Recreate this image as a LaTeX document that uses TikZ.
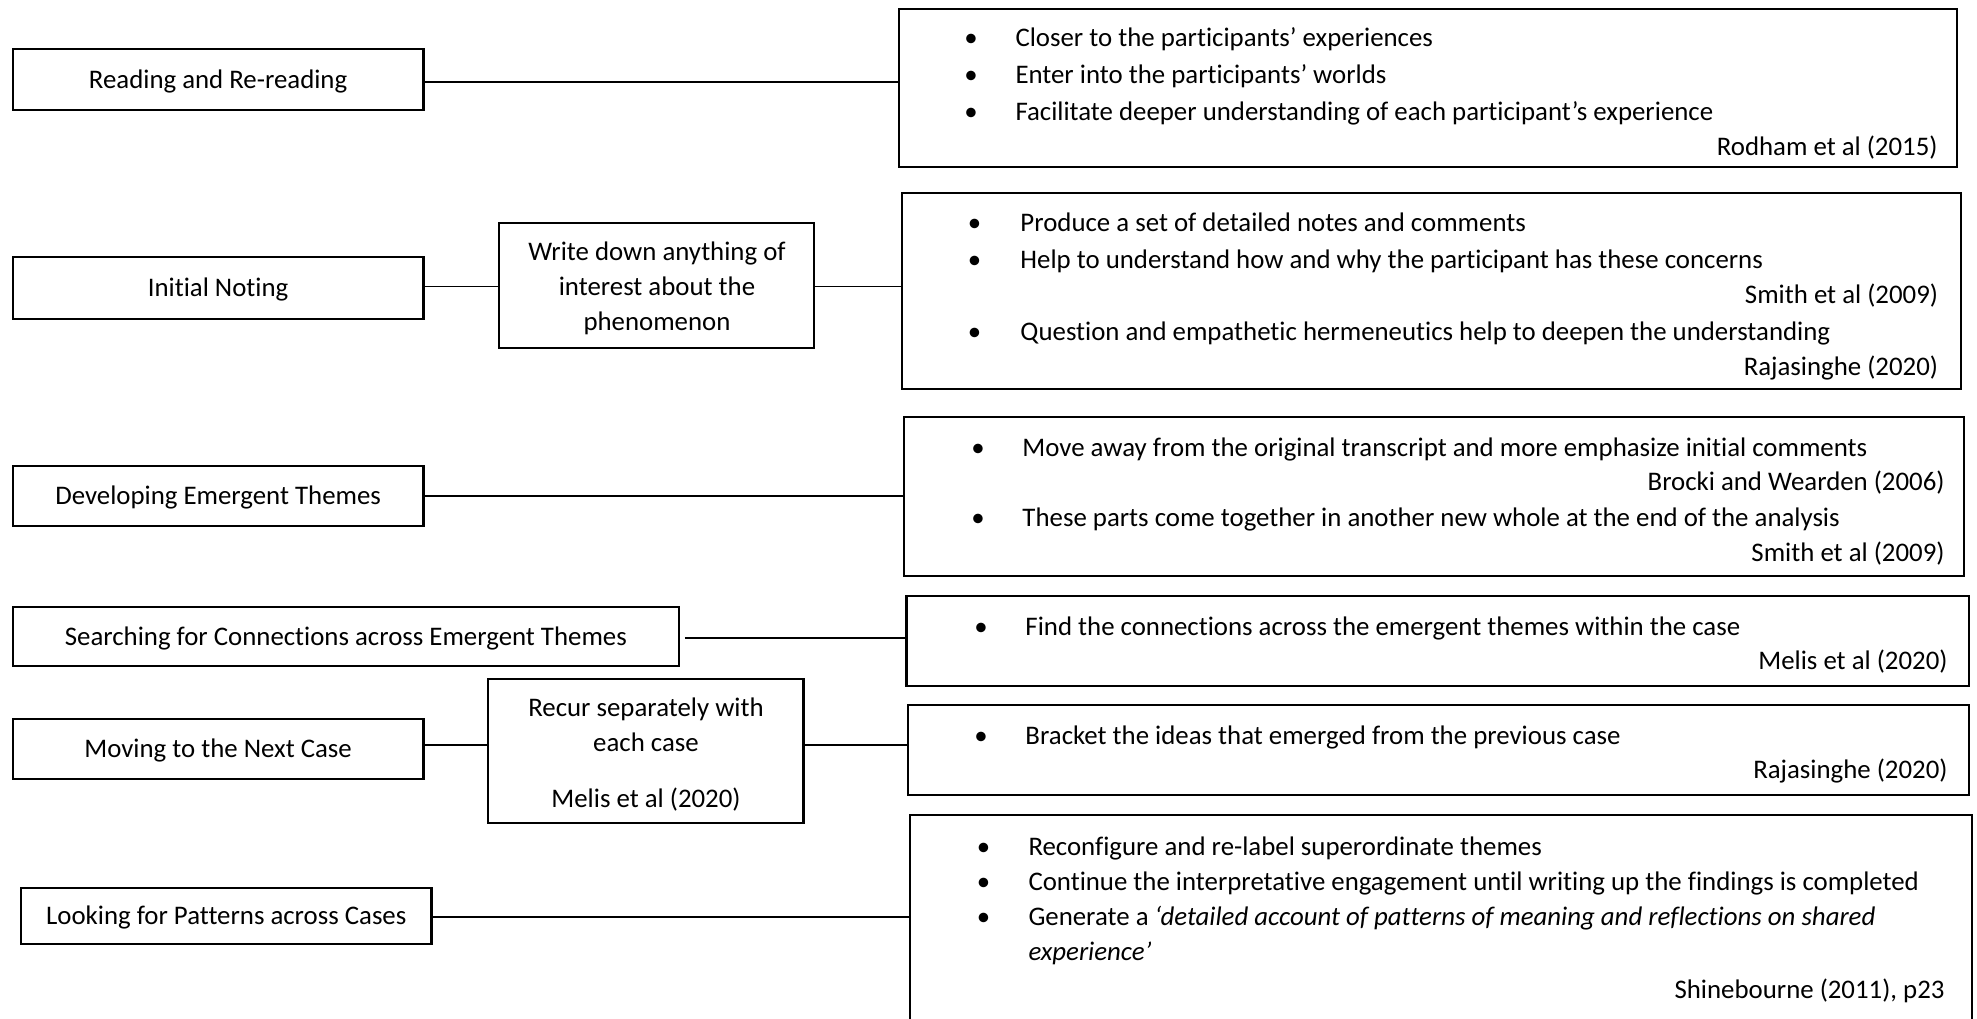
\documentclass[tikz,border=0pt]{standalone}
\usepackage{fontspec}
\setmainfont{Carlito}[Ligatures=NoCommon]
\usetikzlibrary{fit}
\begin{document}
\begin{tikzpicture}[x=0.41pt,y=-0.41pt,
  box/.style={draw, line width=0.9pt, inner sep=0pt, rectangle, font=\fontsize{11}{13}\selectfont},
  con/.style={line width=0.6pt},
  txt/.style={inner sep=0pt, anchor=west, text height=9.5pt, text depth=2.2pt, font=\fontsize{11}{13}\selectfont},
  cit/.style={txt, anchor=east},
  ctr/.style={txt, anchor=center},
  bul/.style={txt, anchor=center}]
\useasboundingbox (0,0) rectangle (1977,1019);
\fill[white] (0,0) rectangle (1977,1019);

% left boxes
\node[box, fit={(12.7,49) (423.5,110)}] (L1) {};
\node[ctr] (t1) at (L1.center) {Reading and Re-reading};
\node[box, fit={(12.7,257) (423.5,319)}] (L2) {};
\node[ctr] (t2) at (L2.center) {Initial Noting};
\node[box, fit={(12.7,466) (423.5,526)}] (L3) {};
\node[ctr] (t3) at (L3.center) {Developing Emergent Themes};
\node[box, fit={(12.7,607) (679,666)}] (L4) {};
\node[ctr] (t4) at (L4.center) {Searching for Connections across Emergent Themes};
\node[box, fit={(12.7,719) (423.5,779)}] (L5) {};
\node[ctr] (t5) at (L5.center) {Moving to the Next Case};
\node[box, fit={(21,888) (431.5,944)}] (L6) {};
\node[ctr] (t6) at (L6.center) {Looking for Patterns across Cases};

% middle boxes
\node[box, fit={(499,223) (814,348)}] (W) {};
\node[ctr] (w1) at (657,252) {Write down anything of};
\node[ctr] (w2) at (657,287) {interest about the};
\node[ctr] (w3) at (657,322) {phenomenon};
\node[box, fit={(488,679) (803.5,822.7)}] (Rc) {};
\node[ctr] (c1) at (646,708) {Recur separately with};
\node[ctr] (c2) at (646,743) {each case};
\node[ctr] (c3) at (646,799) {Melis et al (2020)};

% right boxes
\node[box, fit={(899,9) (1957,167)}] (R1) {};
\node[bul] (b11) at (971,38) {•};
\node[txt] (a11) at (1015,38) {Closer to the participants’ experiences};
\node[bul] (b12) at (971,75) {•};
\node[txt] (a12) at (1015,75) {Enter into the participants’ worlds};
\node[bul] (b13) at (971,112) {•};
\node[txt] (a13) at (1015,112) {Facilitate deeper understanding of each participant’s experience};
\node[cit] (r1) at (1938,147) {Rodham et al (2015)};

\node[box, fit={(902,193) (1961,389)}] (R2) {};
\node[bul] (b21) at (974.5,223) {•};
\node[txt] (a21) at (1020,223) {Produce a set of detailed notes and comments};
\node[bul] (b22) at (974.5,260) {•};
\node[txt] (a22) at (1020,260) {Help to understand how and why the participant has these concerns};
\node[cit] (r21) at (1938.5,295) {Smith et al (2009)};
\node[bul] (b23) at (974.5,332) {•};
\node[txt] (a23) at (1020,332) {Question and empathetic hermeneutics help to deepen the understanding};
\node[cit] (r22) at (1938.5,367) {Rajasinghe (2020)};

\node[box, fit={(904,417) (1964,576)}] (R3) {};
\node[bul] (b31) at (978,448) {•};
\node[txt] (a31) at (1022,448) {Move away from the original transcript and more emphasize initial comments};
\node[cit] (r31) at (1945,482) {Brocki and Wearden (2006)};
\node[bul] (b32) at (978,518) {•};
\node[txt] (a32) at (1022,518) {These parts come together in another new whole at the end of the analysis};
\node[cit] (r32) at (1945,553) {Smith et al (2009)};

\node[box, fit={(906.5,596) (1969,686)}] (R4) {};
\node[bul] (b41) at (981,627) {•};
\node[txt] (a41) at (1025,627) {Find the connections across the emergent themes within the case};
\node[cit] (r4) at (1948,661) {Melis et al (2020)};

\node[box, fit={(908,705) (1969,795)}] (R5) {};
\node[bul] (b51) at (981,736) {•};
\node[txt] (a51) at (1025,736) {Bracket the ideas that emerged from the previous case};
\node[cit] (r5) at (1948,770) {Rajasinghe (2020)};

\begin{scope}
\clip (0,0) rectangle (1977,1019);
\node[box, fit={(910,815) (1972,1040)}] (R6) {};
\end{scope}
\node[bul] (b61) at (983.5,847) {•};
\node[txt] (a61) at (1028,847) {Reconfigure and re-label superordinate themes};
\node[bul] (b62) at (983.5,882) {•};
\node[txt] (a62) at (1028,882) {Continue the interpretative engagement until writing up the findings is completed};
\node[bul] (b63) at (983.5,917) {•};
\node[txt] (a63) at (1028,917) {Generate a \textit{‘detailed account of patterns of meaning and reflections on shared}};
\node[txt] (a64) at (1028,952) {\textit{experience’}};
\node[cit] (r6) at (1945,990) {Shinebourne (2011), p23};

% connector rows
\coordinate (y1) at (0,82);
\coordinate (y2) at (0,286.5);
\coordinate (y3) at (0,496);
\coordinate (y4) at (0,638);
\coordinate (y5) at (0,745);
\coordinate (y6) at (0,917);
\draw[con] (L1.east |- y1) -- (R1.west |- y1);
\draw[con] (L2.east |- y2) -- (W.west |- y2);
\draw[con] (W.east |- y2) -- (R2.west |- y2);
\draw[con] (L3.east |- y3) -- (R3.west |- y3);
\draw[con, shorten <=2pt] (L4.east |- y4) -- (R4.west |- y4);
\draw[con] (L5.east |- y5) -- (Rc.west |- y5);
\draw[con] (Rc.east |- y5) -- (R5.west |- y5);
\draw[con] (L6.east |- y6) -- (R6.west |- y6);
\end{tikzpicture}
\end{document}
